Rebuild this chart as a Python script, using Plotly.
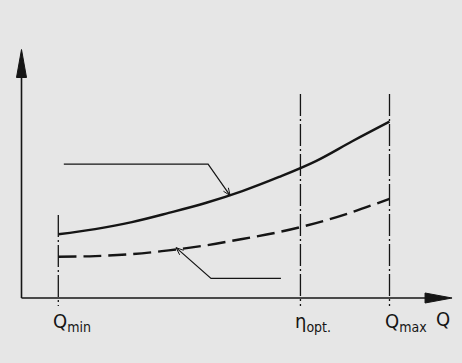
import math
import plotly.graph_objects as go

# ---- data (chart units) ----
Q = [10, 20, 30, 40, 50, 60, 70, 80, 90, 100]
solid_curve = [25.7, 27.8, 30.6, 34.3, 38.3, 43.1, 48.8, 55.2, 63.3, 71.1]
dashed_curve = [16.65, 16.9, 17.7, 19.2, 21.2, 23.8, 26.6, 30.2, 34.7, 40.0]

marker_q = [10, 75.8, 100]
marker_labels = ["Q<sub>min</sub>", "η<sub>opt.</sub>", "Q<sub>max</sub>"]
marker_top = [33.5, 82.3, 82.3]
marker_bottom = -3.2

axis_x_end = 117.0
axis_y_end = 100.2
axis_label = "Q"

# leader lines (start -> bend -> tip on curve)
leader_solid = [(11.5, 54.0), (50.7, 54.0), (56.7, 41.3)]
leader_dashed = [(70.5, 7.9), (51.5, 7.9), (42.0, 20.3)]

# ---- layout mapping ----
W, H = 462, 363
KX, X0 = 3.68, 21.5
KY, Y0 = 2.48, 298.0
xr = [(0 - X0) / KX, (W - X0) / KX]
yr = [(Y0 - H) / KY, Y0 / KY]

def to_px(q, y):
    return X0 + KX * q, Y0 - KY * y

def to_data(px, py):
    return (px - X0) / KX, (Y0 - py) / KY

INK = "#151515"
BG = "#e6e6e6"
FONT = "DejaVu Sans Condensed, Liberation Sans Narrow, DejaVu Sans, sans-serif"

fig = go.Figure()

# axes lines
fig.add_trace(go.Scatter(x=[0, axis_x_end - 7.0], y=[0, 0], mode="lines",
                         line=dict(color=INK, width=1.6), hoverinfo="skip"))
fig.add_trace(go.Scatter(x=[0, 0], y=[0, axis_y_end - 11.0], mode="lines",
                         line=dict(color=INK, width=1.6), hoverinfo="skip"))
# arrow heads
ahx = 5 / KX
ahy = 5 / KY
fig.add_trace(go.Scatter(x=[axis_x_end - 27 / KX, axis_x_end, axis_x_end - 27 / KX, axis_x_end - 27 / KX],
                         y=[ahy, 0, -ahy, ahy], mode="lines", fill="toself",
                         fillcolor=INK, line=dict(color=INK, width=1), hoverinfo="skip"))
fig.add_trace(go.Scatter(x=[-ahx, 0, ahx, -ahx],
                         y=[axis_y_end - 28 / KY, axis_y_end, axis_y_end - 28 / KY, axis_y_end - 28 / KY],
                         mode="lines", fill="toself",
                         fillcolor=INK, line=dict(color=INK, width=1), hoverinfo="skip"))

# dash-dot guide lines
for q, top in zip(marker_q, marker_top):
    fig.add_trace(go.Scatter(x=[q, q], y=[top, marker_bottom], mode="lines",
                             line=dict(color=INK, width=1.3, dash="22px,3px,2px,3px"),
                             hoverinfo="skip"))

# curves
fig.add_trace(go.Scatter(x=Q, y=solid_curve, mode="lines", line_shape="spline",
                         line=dict(color=INK, width=2.4), hoverinfo="skip"))
fig.add_trace(go.Scatter(x=Q, y=dashed_curve, mode="lines", line_shape="spline",
                         line=dict(color=INK, width=2.4, dash="18px,7px"), hoverinfo="skip"))

# leader lines with small open arrow heads
def leader(points):
    xs = [p[0] for p in points]
    ys = [p[1] for p in points]
    fig.add_trace(go.Scatter(x=xs, y=ys, mode="lines",
                             line=dict(color=INK, width=1.2), hoverinfo="skip"))
    tx, ty = to_px(*points[-1])
    px, py = to_px(*points[-2])
    dx, dy = tx - px, ty - py
    n = math.hypot(dx, dy)
    ux, uy = dx / n, dy / n
    L, a = 8, math.radians(22)
    hx, hy = [], []
    for s in (1, -1):
        c, si = math.cos(s * a), math.sin(s * a)
        rx = ux * c - uy * si
        ry = ux * si + uy * c
        hx.append(tx - L * rx)
        hy.append(ty - L * ry)
    pts = [to_data(hx[0], hy[0]), to_data(tx, ty), to_data(hx[1], hy[1])]
    fig.add_trace(go.Scatter(x=[p[0] for p in pts], y=[p[1] for p in pts], mode="lines",
                             line=dict(color=INK, width=1.0), hoverinfo="skip"))

leader(leader_solid)
leader(leader_dashed)

# labels
for q, lab in zip(marker_q, marker_labels):
    fig.add_annotation(x=q, y=-9.5, text=lab, showarrow=False, xanchor="left",
                       yanchor="middle", xshift=-7,
                       font=dict(family=FONT, size=20, color=INK))
fig.add_annotation(x=114.5, y=-8.3, text=axis_label, showarrow=False,
                   xanchor="center", yanchor="middle",
                   font=dict(family=FONT, size=20, color=INK))

fig.update_layout(
    width=W, height=H, margin=dict(l=0, r=0, t=0, b=0),
    paper_bgcolor=BG, plot_bgcolor=BG, showlegend=False,
    xaxis=dict(range=xr, visible=False, fixedrange=True),
    yaxis=dict(range=yr, visible=False, fixedrange=True),
)
fig.write_html("out.html", config={"displayModeBar": False},
               post_script="document.body.style.margin='0';document.body.style.background='" + BG + "';")
